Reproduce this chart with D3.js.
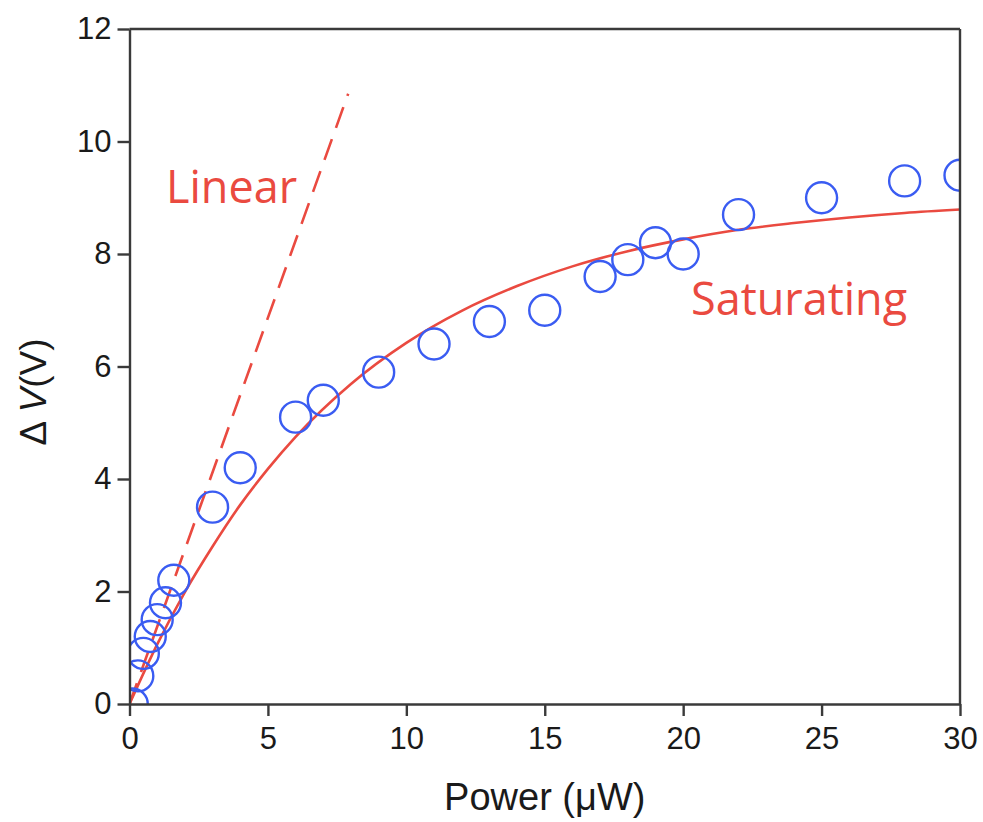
<!DOCTYPE html>
<html>
<head>
<meta charset="utf-8">
<script src="https://cdn.jsdelivr.net/npm/d3@7"></script>
<style>
  html, body { margin: 0; padding: 0; background: #fff; }
  svg { display: block; }
</style>
</head>
<body>
<svg id="chart" width="983" height="822"></svg>
<script>
// ---- data ----
const measPower = [0.1, 0.3, 0.5, 0.75, 1.0, 1.3, 1.6, 3, 4, 6, 7, 9, 11, 13, 15, 17, 18, 19, 20, 22, 25, 28, 30];
const measDV    = [0.0, 0.5, 0.9, 1.2, 1.5, 1.8, 2.2, 3.5, 4.2, 5.1, 5.4, 5.9, 6.4, 6.8, 7.0, 7.6, 7.9, 8.2, 8.0, 8.7, 9.0, 9.3, 9.4];

const satPower = [0, 1, 2, 3, 4, 5, 6, 8, 10, 12, 14, 16, 18, 20, 22, 24, 26, 28, 30];
const satDV    = [0, 1.06, 1.99, 2.80, 3.54, 4.18, 4.75, 5.69, 6.42, 6.99, 7.43, 7.78, 8.05, 8.26, 8.43, 8.55, 8.65, 8.73, 8.79];

const linPower = [0, 7.9];
const linDV    = [0, 10.85];

const xTicks = [0, 5, 10, 15, 20, 25, 30];
const yTicks = [0, 2, 4, 6, 8, 10, 12];

const labelLinear = "Linear";
const labelSat = "Saturating";

// ---- layout ----
const svg = d3.select("#chart");
const x = d3.scaleLinear().domain([0, 30]).range([129.5, 960]);
const y = d3.scaleLinear().domain([0, 12]).range([704, 29]);

const axisColor = "#3a3a3a";
const red = "#ea4a40";
const blue = "#3a5cf2";

// clip
svg.append("defs").append("clipPath").attr("id", "plotclip")
  .append("rect")
  .attr("x", x(0)).attr("y", y(12))
  .attr("width", x(30) - x(0)).attr("height", y(0) - y(12));

const plot = svg.append("g").attr("clip-path", "url(#plotclip)");

// linear dashed
plot.append("path")
  .datum(linPower.map((p, i) => [p, linDV[i]]))
  .attr("d", d3.line().x(d => x(d[0])).y(d => y(d[1])))
  .attr("fill", "none").attr("stroke", red).attr("stroke-width", 2.6)
  .attr("stroke-dasharray", "22,12");

// saturating curve
plot.append("path")
  .datum(satPower.map((p, i) => [p, satDV[i]]))
  .attr("d", d3.line().curve(d3.curveMonotoneX).x(d => x(d[0])).y(d => y(d[1])))
  .attr("fill", "none").attr("stroke", red).attr("stroke-width", 2.6);

// measured circles
plot.selectAll("circle.m")
  .data(measPower.map((p, i) => [p, measDV[i]]))
  .join("circle").attr("class", "m")
  .attr("cx", d => x(d[0])).attr("cy", d => y(d[1]))
  .attr("r", 15.5)
  .attr("fill", "none").attr("stroke", blue).attr("stroke-width", 2.4);

// frame (top + right)
svg.append("line").attr("x1", x(0)).attr("x2", x(30)).attr("y1", y(12)).attr("y2", y(12))
  .attr("stroke", axisColor).attr("stroke-width", 2.4);
svg.append("line").attr("x1", x(30)).attr("x2", x(30)).attr("y1", y(12)).attr("y2", y(0))
  .attr("stroke", axisColor).attr("stroke-width", 2.4);

// axes
const gx = svg.append("g").attr("transform", `translate(0,${y(0)})`)
  .call(d3.axisBottom(x).tickValues(xTicks).tickFormat(d3.format("d")).tickSize(12).tickPadding(11).tickSizeOuter(0));
const gy = svg.append("g").attr("transform", `translate(${x(0)},0)`)
  .call(d3.axisLeft(y).tickValues(yTicks).tickFormat(d3.format("d")).tickSize(12).tickPadding(6).tickSizeOuter(0));

[gx, gy].forEach(g => {
  g.select(".domain").attr("stroke", axisColor).attr("stroke-width", 2.4);
  g.selectAll(".tick line").attr("stroke", axisColor).attr("stroke-width", 2.4);
  g.selectAll(".tick text").attr("fill", "#1a1a1a")
    .style("font-family", "'Liberation Sans', Arial, Helvetica, sans-serif")
    .style("font-size", "31px");
});

// axis titles
svg.append("text")
  .attr("x", (x(0) + x(30)) / 2).attr("y", 810)
  .attr("text-anchor", "middle")
  .style("font-family", "'Liberation Sans', Arial, Helvetica, sans-serif")
  .style("font-size", "38px").attr("fill", "#1a1a1a")
  .text("Power (μW)");

const yt = svg.append("text")
  .attr("transform", `translate(46,392) rotate(-90)`)
  .attr("text-anchor", "middle")
  .style("font-family", "'Liberation Sans', Arial, Helvetica, sans-serif")
  .style("font-size", "37px").attr("fill", "#1a1a1a");
yt.append("tspan").text("Δ ");
yt.append("tspan").style("font-style", "italic").text("V");
yt.append("tspan").text("(V)");

// series labels
svg.append("text").attr("x", 166).attr("y", 203)
  .style("font-family", "'Open Sans', 'Noto Sans', sans-serif")
  .style("font-size", "45px").attr("fill", red)
  .text(labelLinear);
svg.append("text").attr("x", 691).attr("y", 315)
  .style("font-family", "'Open Sans', 'Noto Sans', sans-serif")
  .style("font-size", "45px").attr("fill", red)
  .text(labelSat);
</script>
</body>
</html>
